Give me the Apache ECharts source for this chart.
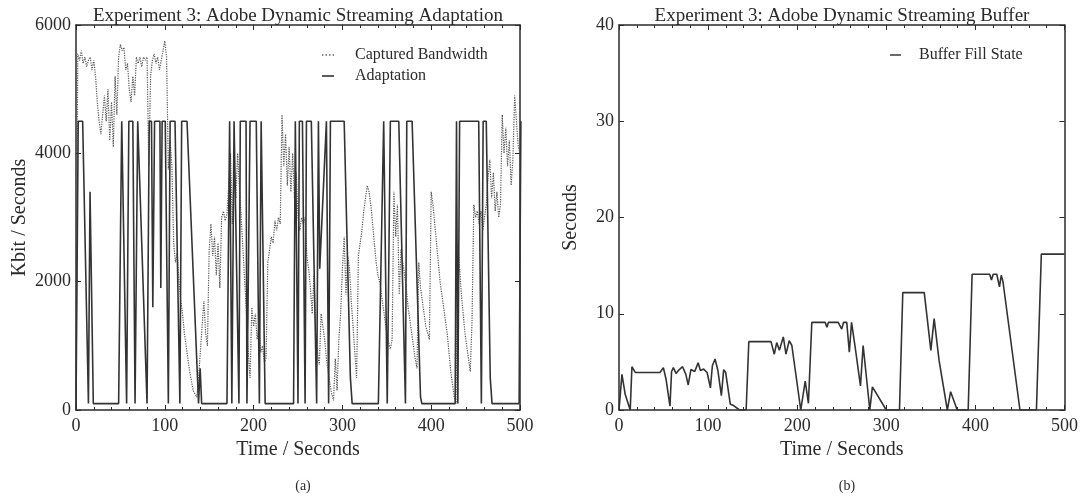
<!DOCTYPE html>
<html>
<head>
<meta charset="utf-8">
<script src="https://cdn.jsdelivr.net/npm/echarts@6/dist/echarts.min.js"></script>
<style>
html,body{margin:0;padding:0;background:#fff;}
#c{width:1081px;height:496px;}
</style>
</head>
<body>
<div id="c"></div>
<script>
// ---- DATA ----
const titles = ['Experiment 3: Adobe Dynamic Streaming Adaptation', 'Experiment 3: Adobe Dynamic Streaming Buffer'];
const xTicksLabel = 'Time / Seconds';
const seriesNames = ['Captured Bandwidth', 'Adaptation', 'Buffer Fill State'];

// Captured bandwidth (Kbit/s), sampled every 2 s from t=0 to t=500
const bwStep = 2;
const bandwidth = [
  0, 5550, 5450, 5600, 5400, 5500, 5350, 5450, 5500, 5300,
  5450, 5200, 4800, 4500, 4300, 4600, 4900, 4500, 5000, 4200,
  4800, 4100, 5200, 4600, 5500, 5700, 5600, 5650, 5300, 5400,
  5000, 4800, 5200, 4900, 5500, 5400, 5500, 5350, 5500, 5450,
  5500, 3800, 5200, 5450, 5550, 5400, 5500, 5300, 5450, 5600,
  5750, 5500, 3750, 4200, 3800, 2600, 2300, 2450, 2000, 1700,
  1500, 1200, 1000, 800, 600, 450, 300, 250, 200, 500,
  900, 1300, 1700, 1200, 1000, 2500, 2900, 2400, 2700, 2100,
  2600, 1900, 3000, 3100, 2950, 3050, 3500, 4000, 2900, 3800,
  3300, 4000, 3500, 3000, 2500, 2000, 1500, 900, 500, 1600,
  1300, 1500, 1100, 1300, 900, 1000, 750, 800, 2300, 2500,
  2700, 2600, 2950, 2800, 3000, 2900, 4600, 3800, 4300, 3500,
  4100, 3400, 4000, 3300, 3700, 3000, 2800, 3000, 2900, 3000,
  2400, 2200, 1900, 1500, 2100, 1200, 900, 700, 1500, 1300,
  1100, 800, 600, 400, 250, 150, 800, 300, 1100, 1500,
  2200, 2700, 1800, 2400, 2200, 1700, 1300, 900, 500, 2400,
  2600, 2800, 3100, 3300, 3500, 3400, 3200, 2900, 2600, 2300,
  2100, 2000, 1800, 1600, 1400, 1200, 1050, 950, 1100, 3400,
  2700, 3200, 1800, 2500, 2300, 2100, 1900, 1600, 1400, 1200,
  1000, 800, 650, 2300, 1900, 1700, 1500, 1300, 1200, 1100,
  3400, 3200, 2900, 2600, 2300, 2000, 1800, 1600, 1600, 1200,
  900, 600, 400, 200, 100, 2600, 2200, 1800, 1500, 1200,
  1000, 800, 600, 1400, 3200, 3000, 3100, 2900, 3100, 2800,
  3000, 3200, 3600, 3900, 3300, 3700, 3100, 3400, 3000, 3200,
  4600, 4000, 4400, 3800, 4200, 3500, 3900, 4900, 4500, 4100,
  4000
];

// Adaptation (selected bitrate, Kbit/s): [time, value]
const adaptation = [
  [0,0],[2.5,4500],[7.5,4500],[14,100],[15.8,3400],[19.5,100],[48,100],[51.5,4500],[57,100],
  [59.5,4500],[64,4500],[66.5,100],[69.5,4500],[70.5,4500],[80,100],[82.5,4500],[85,4500],
  [86.5,1600],[88.5,4500],[94.5,4500],[95.5,1900],[97,4500],[100.5,4500],[104,100],[106,4500],
  [111.5,4500],[117,100],[119,4500],[125,4500],[138,100],[139.8,650],[141.5,100],[170,100],
  [173,4500],[174,4500],[175.5,100],[178,4500],[180,4500],[183.5,100],[185,4500],[191.5,4500],
  [192.5,100],[196,4500],[203,4500],[206.5,100],[208.5,4500],[213,100],[245,100],[247,4500],
  [248.5,4500],[250,100],[251.5,4500],[255,4500],[258,100],[259.5,4500],[265,4500],[271,100],
  [273,4500],[274.5,2200],[282,4500],[283,4500],[284.5,100],[286.5,4500],[302,4500],[309,500],
  [311,100],[340.5,100],[346.5,4500],[350.5,100],[354,4500],[363.5,4500],[371,100],[372.5,4500],
  [378.5,4500],[388,200],[389.5,100],[427,100],[428.5,4500],[430,100],[432,4500],[453.5,4500],
  [456.5,100],[458.5,4500],[462,4500],[466.5,500],[468.5,100],[499,100],[501,4500]
];

// Buffer fill state (seconds): [time, value]
const buffer = [
  [0,0],[3.3,3.7],[7,1.6],[12.6,0],[14.5,4.5],[18.2,3.9],[46,3.9],[49.8,4.4],[52.8,3.2],[57.2,0.4],
  [59,4.0],[61,4.4],[64,3.8],[67.7,4.2],[71.4,4.5],[75,3.7],[77.7,2.6],[80.7,4.2],[85,4.0],[88.8,4.9],
  [91.4,4.1],[95,4.25],[98.9,3.9],[102.6,2.3],[104.8,4.6],[107.8,5.3],[111,4.1],[114.9,1.5],[117.5,4.2],
  [119.7,3.9],[124.9,0.6],[127.9,0.5],[135.3,0],[142.7,0],[145.7,7.1],[170.6,7.1],[174.3,5.8],[177,7.0],
  [180,6.2],[184.4,7.6],[187.4,5.8],[191,7.2],[194,6.7],[204,0],[209,3.0],[212.6,0.7],[216.4,9.1],
  [231.5,9.1],[233.3,8.6],[235,9.1],[246,9.1],[250,8.4],[252,9.1],[255.6,9.1],[258.5,6.0],[261,9.1],
  [264.8,6.7],[271,2.5],[274,6.7],[281.5,0],[284.4,2.4],[300,0],[314.8,0],[318.5,12.2],[342.6,12.2],
  [350,6.2],[353.7,9.5],[359.3,5.1],[368.5,0],[372.2,1.9],[379.6,0],[391.9,0],[396.3,14.1],[416,14.1],
  [418,13.5],[420,14.1],[424,14.1],[427,12.8],[429,14.0],[431,13.3],[450,0],[468.5,0],[474,16.2],[500,16.2]
];

const leftYTicks = {min: 0, max: 6000, interval: 2000};
const rightYTicks = {min: 0, max: 40, interval: 10};
const xTicks = {min: 0, max: 500, interval: 100};

// ---- CHART ----
const FONT = '"Liberation Serif", "DejaVu Serif", serif';
const INK = '#2a2a2a';
const bwData = bandwidth.map((v, i) => [i * bwStep, v]);
const plain = v => String(v);

function xAx(gi, pos, labels) {
  return {
    type: 'value', gridIndex: gi, position: pos,
    min: xTicks.min, max: xTicks.max, interval: xTicks.interval,
    axisLine: {show: true, onZero: false, lineStyle: {color: INK, width: 1.5}},
    axisTick: {show: true, inside: true, length: 5, lineStyle: {color: INK, width: 1}},
    minorTick: {show: true, splitNumber: 5, length: 3, lineStyle: {color: INK, width: 1}},
    splitLine: {show: false},
    axisLabel: {show: labels, fontFamily: FONT, fontSize: 18, color: INK, margin: 7, formatter: plain},
    name: labels ? xTicksLabel : '', nameLocation: 'middle', nameGap: 30,
    nameTextStyle: {fontFamily: FONT, fontSize: 20, color: INK}
  };
}
function yAx(gi, pos, t, labels, name, gap) {
  return {
    type: 'value', gridIndex: gi, position: pos,
    min: t.min, max: t.max, interval: t.interval,
    axisLine: {show: true, onZero: false, lineStyle: {color: INK, width: 1.5}},
    axisTick: {show: true, inside: true, length: 5, lineStyle: {color: INK, width: 1}},
    splitLine: {show: false},
    axisLabel: {show: labels, fontFamily: FONT, fontSize: 18, color: INK, margin: 5, formatter: plain},
    name: labels ? name : '', nameLocation: 'middle', nameGap: gap,
    nameTextStyle: {fontFamily: FONT, fontSize: 20, color: INK}
  };
}

const dottedIcon = 'path://M0,0h1.5v1.5h-1.5z M4,0h1.5v1.5h-1.5z M8,0h1.5v1.5h-1.5z M12,0h1.5v1.5h-1.5z';
const solidIcon = 'path://M0,0h12v1.6h-12z';

const chart = echarts.init(document.getElementById('c'));
chart.setOption({
  animation: false,
  backgroundColor: '#fff',
  title: [
    {text: titles[0], left: 293, top: 2, textAlign: 'center',
     textStyle: {fontFamily: FONT, fontSize: 19, fontWeight: 'normal', color: INK}},
    {text: titles[1], left: 837, top: 2, textAlign: 'center',
     textStyle: {fontFamily: FONT, fontSize: 19, fontWeight: 'normal', color: INK}},
    {text: '(a)', left: 298, top: 474, textAlign: 'center',
     textStyle: {fontFamily: FONT, fontSize: 14, fontWeight: 'normal', color: INK}},
    {text: '(b)', left: 842, top: 474, textAlign: 'center',
     textStyle: {fontFamily: FONT, fontSize: 14, fontWeight: 'normal', color: INK}}
  ],
  legend: [
    {data: [{name: seriesNames[0], icon: dottedIcon}, {name: seriesNames[1], icon: solidIcon}],
     orient: 'vertical', left: 317, top: 42,
     itemWidth: 12, itemHeight: 2, itemGap: 5,
     textStyle: {fontFamily: FONT, fontSize: 16, color: INK, padding: [0, 0, 0, 16]}},
    {data: [{name: seriesNames[2], icon: solidIcon}], orient: 'vertical', left: 885, top: 42,
     itemWidth: 11, itemHeight: 2,
     textStyle: {fontFamily: FONT, fontSize: 16, color: INK, padding: [0, 0, 0, 13]}}
  ],
  grid: [
    {left: 76, top: 25, width: 444, height: 385, show: false},
    {left: 619, top: 25, width: 446, height: 385, show: false}
  ],
  xAxis: [xAx(0, 'bottom', true), xAx(0, 'top', false), xAx(1, 'bottom', true), xAx(1, 'top', false)],
  yAxis: [
    yAx(0, 'left', leftYTicks, true, 'Kbit / Seconds', 46),
    yAx(0, 'right', leftYTicks, false, '', 0),
    yAx(1, 'left', rightYTicks, true, 'Seconds', 38),
    yAx(1, 'right', rightYTicks, false, '', 0)
  ],
  series: [
    {name: seriesNames[0], type: 'line', xAxisIndex: 0, yAxisIndex: 0, data: bwData,
     showSymbol: false, symbol: 'none', lineStyle: {type: 'dotted', width: 1.2, color: '#555'},
     itemStyle: {color: '#555'}, z: 2},
    {name: seriesNames[1], type: 'line', xAxisIndex: 0, yAxisIndex: 0, data: adaptation,
     showSymbol: false, symbol: 'none', lineStyle: {width: 1.6, color: '#333'},
     itemStyle: {color: '#333'}, z: 3},
    {name: seriesNames[2], type: 'line', xAxisIndex: 2, yAxisIndex: 2, data: buffer,
     showSymbol: false, symbol: 'none', lineStyle: {width: 1.6, color: '#333'},
     itemStyle: {color: '#333'}, z: 3}
  ]
});
</script>
</body>
</html>
